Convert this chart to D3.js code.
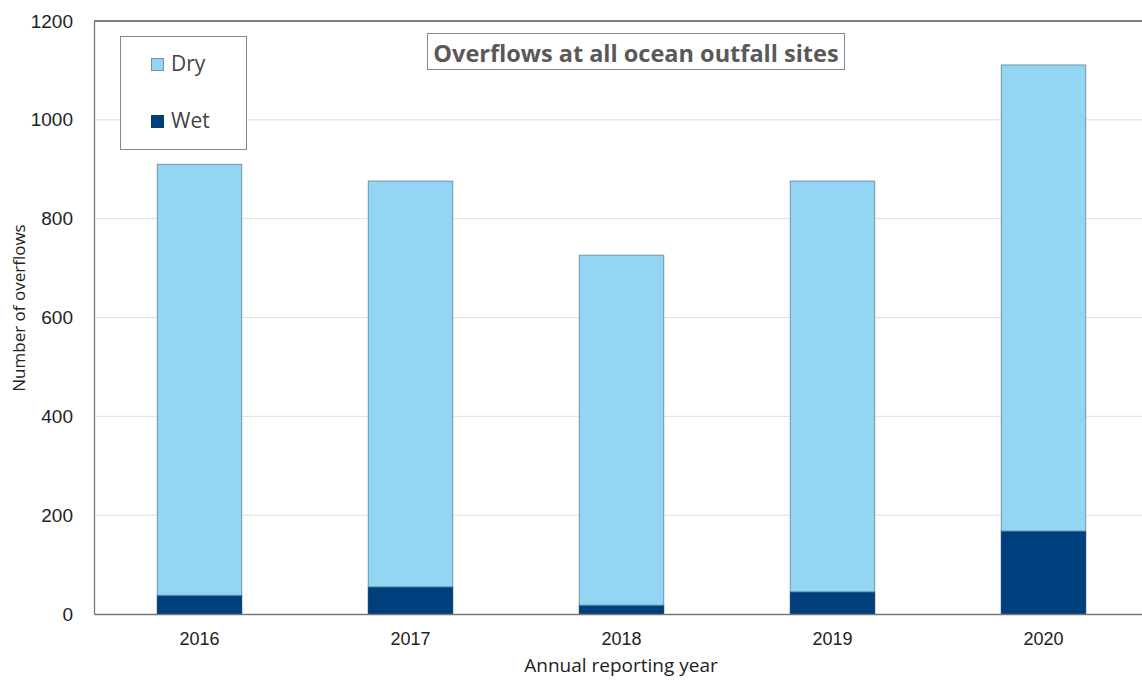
<!DOCTYPE html>
<html>
<head>
<meta charset="utf-8">
<script src="https://cdn.jsdelivr.net/npm/d3@7"></script>
<style>
  html, body { margin: 0; padding: 0; background: #fff; }
  svg { display: block; font-family: "Open Sans", "Noto Sans", sans-serif; }
</style>
</head>
<body>
<svg id="chart" width="1142" height="681"></svg>
<script>
// Annual overflow counts, split by weather condition
const years = ["2016", "2017", "2018", "2019", "2020"];
const wet = [38, 55, 18, 45, 168];
const dry = [872, 821, 708, 831, 943];
const yTicks = [0, 200, 400, 600, 800, 1000, 1200];
const seriesNames = ["Dry", "Wet"];
const seriesColors = { Dry: "#92d6f3", Wet: "#003f7d" };

const W = 1142, H = 681;
const margin = { left: 94, top: 21, right: -7, bottom: 67 };
const svg = d3.select("#chart");

const x = d3.scaleBand().domain(years).range([margin.left, W - margin.right]).paddingInner(0.6).paddingOuter(0.3);
const y = d3.scaleLinear().domain([0, 1200]).range([H - margin.bottom, margin.top]);

// Horizontal gridlines
svg.append("g").selectAll("line").data(yTicks.filter(d => d > 0 && d < 1200)).join("line")
  .attr("x1", margin.left).attr("x2", W)
  .attr("y1", d => y(d)).attr("y2", d => y(d))
  .attr("stroke", "#e0e0e0").attr("stroke-width", 1);

// Plot frame: top edge
svg.append("line").attr("x1", margin.left).attr("x2", W).attr("y1", y(1200)).attr("y2", y(1200))
  .attr("stroke", "#555").attr("stroke-width", 1.3);

// Stacked bars
const rows = years.map((yr, i) => ({ year: yr, Wet: wet[i], Dry: dry[i] }));
const stack = d3.stack().keys(["Wet", "Dry"])(rows);

svg.append("g").selectAll("g").data(stack).join("g")
  .attr("fill", d => seriesColors[d.key])
  .attr("stroke", d => d.key === "Dry" ? "#6f95a8" : "#0d3a63")
  .attr("stroke-width", 1)
  .selectAll("rect").data(d => d).join("rect")
    .attr("x", d => x(d.data.year))
    .attr("width", x.bandwidth())
    .attr("y", d => y(d[1]))
    .attr("height", d => y(d[0]) - y(d[1]));

// Y axis
const yAxis = svg.append("g").attr("transform", `translate(${margin.left},0)`)
  .call(d3.axisLeft(y).tickValues(yTicks).tickSize(0).tickPadding(21).tickFormat(d3.format("d")));
yAxis.select(".domain").attr("stroke", "#777").attr("stroke-width", 1.3);
yAxis.selectAll("text").attr("font-size", 19).attr("fill", "#222");

// X axis
const xAxis = svg.append("g").attr("transform", `translate(0,${y(0)})`)
  .call(d3.axisBottom(x).tickSize(0).tickPadding(18));
xAxis.select(".domain").attr("stroke", "#777").attr("stroke-width", 1.3);
xAxis.selectAll("text").attr("font-size", 18).attr("fill", "#222");

// Axis titles
svg.append("text").attr("x", 621).attr("y", 672).attr("text-anchor", "middle")
  .attr("font-size", 19).attr("fill", "#222").text("Annual reporting year");
svg.append("text").attr("transform", "translate(25,308) rotate(-90)").attr("text-anchor", "middle")
  .attr("font-size", 17).attr("fill", "#222").text("Number of overflows");

// Legend
const legend = svg.append("g");
legend.append("rect").attr("x", 120.5).attr("y", 36.5).attr("width", 126).attr("height", 113)
  .attr("fill", "#fff").attr("stroke", "#888").attr("stroke-width", 1);
seriesNames.forEach((name, i) => {
  const gy = 58 + i * 57;
  legend.append("rect").attr("x", 151.5).attr("y", gy + 0.5).attr("width", 12).attr("height", 12)
    .attr("fill", seriesColors[name]).attr("stroke", name === "Dry" ? "#6f95a8" : "#0d3a63");
  legend.append("text").attr("x", 171).attr("y", gy + 13).attr("font-size", 21).attr("fill", "#444").text(name);
});

// Chart title in a framed box
svg.append("rect").attr("x", 427.5).attr("y", 33.5).attr("width", 417).attr("height", 36)
  .attr("fill", "#fff").attr("stroke", "#888").attr("stroke-width", 1);
svg.append("text").attr("x", 636).attr("y", 62).attr("text-anchor", "middle")
  .attr("font-size", 23.5).attr("font-weight", "bold").attr("fill", "#595959")
  .text("Overflows at all ocean outfall sites");
</script>
</body>
</html>
